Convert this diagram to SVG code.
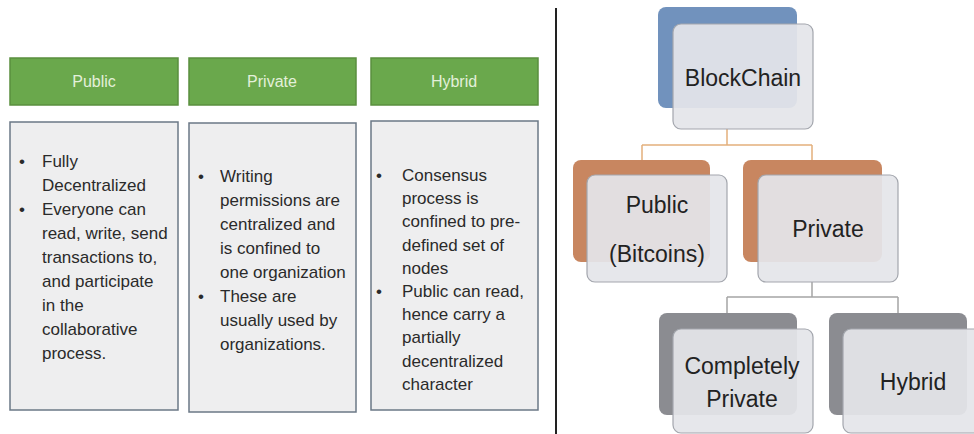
<svg xmlns="http://www.w3.org/2000/svg" width="974" height="434" viewBox="0 0 974 434">
<style>
.hdr{fill:#6aa84c;stroke:#5a8f3e;stroke-width:1.5}
.hdrt{font-family:"Liberation Sans",Arial,sans-serif;font-size:16px;fill:#e3f0da;text-anchor:middle}
.box{fill:#eeeeef;stroke:#6b7886;stroke-width:1.5}
.bt{font-family:"Liberation Sans",Arial,sans-serif;font-size:17px;fill:#2a2a2a}
.back-blue{fill:#7192bd}
.back-orange{fill:#c88660}
.back-gray{fill:#8b8c91}
.front{fill:#e4e5ea;fill-opacity:0.93;stroke:#a3a6ad;stroke-width:1.2}
.nt{font-family:"Liberation Sans",Arial,sans-serif;font-size:23px;fill:#222;text-anchor:middle}
.c-or{fill:none;stroke:#e3b07c;stroke-width:1.5}
.c-gr{fill:none;stroke:#a5a5a5;stroke-width:1.5}
</style>
<rect width="974" height="434" fill="#ffffff"/>

<g id="public-col">
<rect class="hdr" x="10" y="58" width="168" height="47"/>
<text class="hdrt" x="94" y="87">Public</text>
<rect class="box" x="10" y="122" width="168" height="288"/>
<text class="bt" x="19" y="167">•</text>
<text class="bt" x="19" y="215">•</text>
<text class="bt" x="42" y="167">Fully</text>
<text class="bt" x="42" y="191">Decentralized</text>
<text class="bt" x="42" y="215">Everyone can</text>
<text class="bt" x="42" y="239">read, write, send</text>
<text class="bt" x="42" y="263">transactions to,</text>
<text class="bt" x="42" y="287">and participate</text>
<text class="bt" x="42" y="311">in the</text>
<text class="bt" x="42" y="335">collaborative</text>
<text class="bt" x="42" y="359">process.</text>
</g>

<g id="private-col">
<rect class="hdr" x="189" y="58" width="167" height="47"/>
<text class="hdrt" x="272" y="87">Private</text>
<rect class="box" x="189" y="123" width="167" height="289"/>
<text class="bt" x="198" y="182">•</text>
<text class="bt" x="198" y="302">•</text>
<text class="bt" x="220" y="182">Writing</text>
<text class="bt" x="220" y="206">permissions are</text>
<text class="bt" x="220" y="230">centralized and</text>
<text class="bt" x="220" y="254">is confined to</text>
<text class="bt" x="220" y="278">one organization</text>
<text class="bt" x="220" y="302">These are</text>
<text class="bt" x="220" y="326">usually used by</text>
<text class="bt" x="220" y="350">organizations.</text>
</g>

<g id="hybrid-col">
<rect class="hdr" x="371" y="58" width="167" height="47"/>
<text class="hdrt" x="454" y="87">Hybrid</text>
<rect class="box" x="371" y="121" width="167" height="289"/>
<text class="bt" x="376" y="181">•</text>
<text class="bt" x="376" y="297">•</text>
<text class="bt" x="402" y="181">Consensus</text>
<text class="bt" x="402" y="204.2">process is</text>
<text class="bt" x="402" y="227.4">confined to pre-</text>
<text class="bt" x="402" y="250.6">defined set of</text>
<text class="bt" x="402" y="273.8">nodes</text>
<text class="bt" x="402" y="297">Public can read,</text>
<text class="bt" x="402" y="320.2">hence carry a</text>
<text class="bt" x="402" y="343.4">partially</text>
<text class="bt" x="402" y="366.6">decentralized</text>
<text class="bt" x="402" y="389.8">character</text>
</g>

<line id="divider" x1="556" y1="8" x2="556" y2="434" stroke="#222" stroke-width="2"/>

<g id="connectors">
<path class="c-or" d="M727 129 V145 M642 145 H812 M642 145 V160 M812 145 V160"/>
<path class="c-gr" d="M812 282 V297 M727 297 H898 M727 297 V313 M898 297 V313"/>
</g>

<g id="node-blockchain">
<rect class="back-blue" x="658" y="7" width="139" height="101" rx="8"/>
<rect class="front" x="673" y="24" width="140" height="105" rx="8"/>
<text class="nt" x="743" y="86">BlockChain</text>
</g>

<g id="node-public">
<rect class="back-orange" x="573" y="160" width="137" height="102" rx="8"/>
<rect class="front" x="587" y="175" width="140" height="107" rx="8"/>
<text class="nt" x="657" y="213">Public</text>
<text class="nt" x="657" y="262">(Bitcoins)</text>
</g>

<g id="node-private">
<rect class="back-orange" x="743" y="160" width="139" height="102" rx="8"/>
<rect class="front" x="758" y="175" width="140" height="107" rx="8"/>
<text class="nt" x="828" y="237">Private</text>
</g>

<g id="node-completely-private">
<rect class="back-gray" x="659" y="313" width="138" height="102" rx="8"/>
<rect class="front" x="673" y="329" width="140" height="104" rx="8"/>
<text class="nt" x="742" y="374">Completely</text>
<text class="nt" x="742" y="407">Private</text>
</g>

<g id="node-hybrid">
<rect class="back-gray" x="829" y="313" width="138" height="102" rx="8"/>
<rect class="front" x="843" y="329" width="140" height="104" rx="8"/>
<text class="nt" x="913" y="390">Hybrid</text>
</g>
</svg>
